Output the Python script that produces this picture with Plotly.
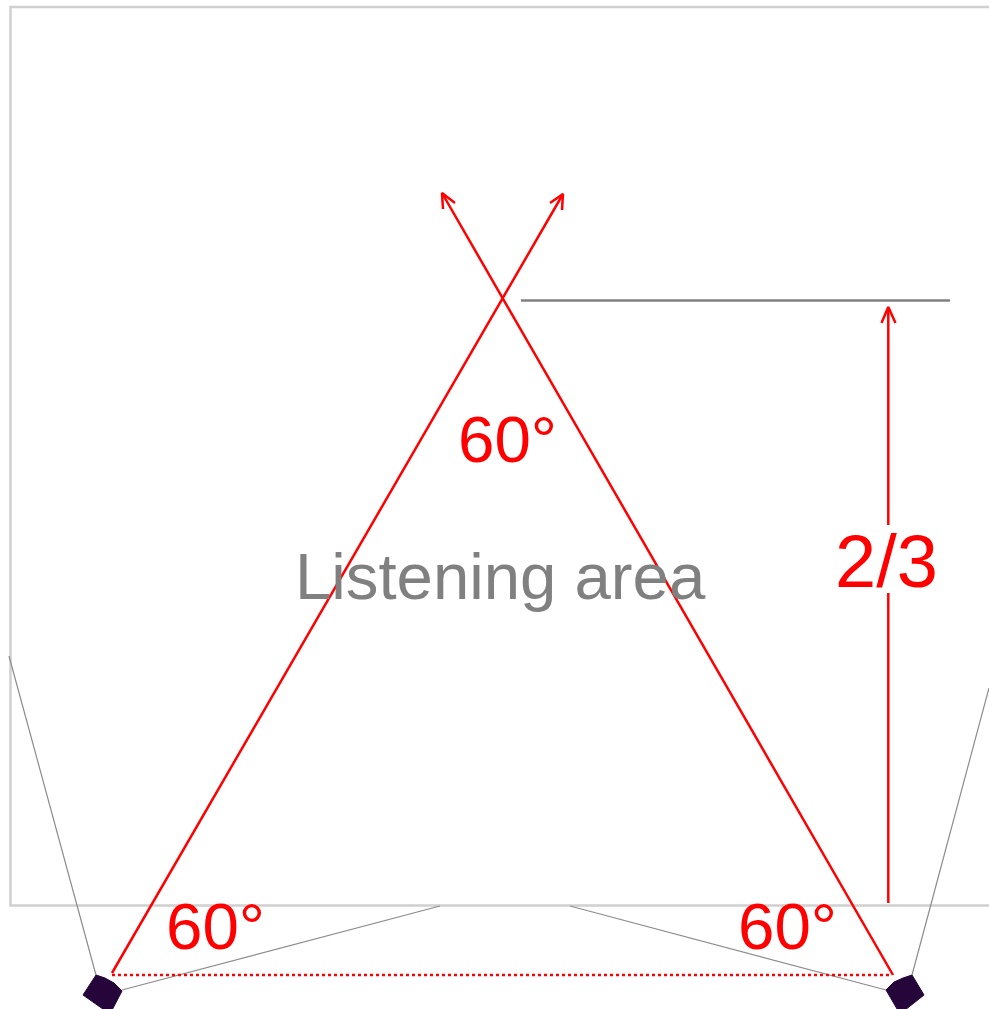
import plotly.graph_objects as go

WIDTH = 989
HEIGHT = 1009

RED = "#ff0000"
GREY = "#808080"

# outline of the room
room_x = [989, 10.5, 10.5, 989]
room_y = [7, 7, 905.5, 905.5]

# thin lines for the speaker spread
spread_left_x = [9, 96, None, 122, 440]
spread_left_y = [656, 975, None, 990, 906]
spread_right_x = [989, 912, None, 886, 570]
spread_right_y = [688, 975, None, 990, 906]

# speaker boxes
speaker_left_x = [96, 105, 114, 122, 110, 83, 96]
speaker_left_y = [975, 978, 983, 991, 1014, 995, 975]
speaker_right_x = [886, 894, 903, 912, 924, 900, 886]
speaker_right_y = [990, 982, 978, 975, 995, 1014, 990]

# triangle
side_left_x = [112, 563, None, 550, 563, 562]
side_left_y = [973, 194, None, 203, 194, 210]
side_right_x = [893, 442, None, 443, 442, 455]
side_right_y = [975, 193, None, 209, 193, 203]
base_x = [112, 890]
base_y = [975, 975]

# distance marker, broken around the 2/3 label
height_x = [888.3, 888.3, None, 888.3, 888.3, None, 881.5, 888.3, 895.5]
height_y = [903, 593, None, 525, 308, None, 323, 307, 323]
level_x = [521, 950]
level_y = [300.5, 300.5]

labels = ["60°", "60°", "60°", "2/3", "Listening area"]
label_x = [507.5, 215, 787.5, 886, 500.5]
label_y = [439, 926, 926, 561, 576]
label_size = [65.5, 65.5, 65.5, 74, 65.3]
label_color = [RED, RED, RED, RED, GREY]


def add_line(fig, x, y, color, width, dash="solid"):
    fig.add_trace(go.Scatter(
        x=x,
        y=y,
        mode="lines",
        line=dict(color=color, width=width, dash=dash),
        hoverinfo="skip",
    ))


fig = go.Figure()

add_line(fig, room_x, room_y, "#d0d0d0", 2.5)
add_line(fig, spread_left_x, spread_left_y, "#8c8c8c", 1.2)
add_line(fig, spread_right_x, spread_right_y, "#8c8c8c", 1.2)

for x, y in [(speaker_left_x, speaker_left_y), (speaker_right_x, speaker_right_y)]:
    fig.add_trace(go.Scatter(
        x=x,
        y=y,
        mode="lines",
        fill="toself",
        fillcolor="#26063a",
        line=dict(color="#26063a", width=1),
        hoverinfo="skip",
    ))

add_line(fig, side_left_x, side_left_y, RED, 2.5)
add_line(fig, side_right_x, side_right_y, RED, 2.5)
add_line(fig, base_x, base_y, RED, 2.5, "dot")
add_line(fig, height_x, height_y, RED, 2.5)
add_line(fig, level_x, level_y, GREY, 2.5)

for text, x, y, size, color in zip(labels, label_x, label_y, label_size, label_color):
    fig.add_annotation(
        x=x,
        y=y,
        text=text,
        showarrow=False,
        xanchor="center",
        yanchor="middle",
        font=dict(family="Liberation Sans", size=size, color=color),
    )

fig.update_layout(
    width=WIDTH,
    height=HEIGHT,
    margin=dict(l=0, r=0, t=0, b=0),
    paper_bgcolor="white",
    plot_bgcolor="white",
    showlegend=False,
    xaxis=dict(range=[0, WIDTH], visible=False, fixedrange=True),
    yaxis=dict(range=[HEIGHT, 0], visible=False, fixedrange=True),
)

# the page's default body margin would push the figure 8px in
fig.write_html(
    "out.html",
    config={"displayModeBar": False},
    post_script="document.body.style.margin = '0'; document.body.style.overflow = 'hidden';",
)
